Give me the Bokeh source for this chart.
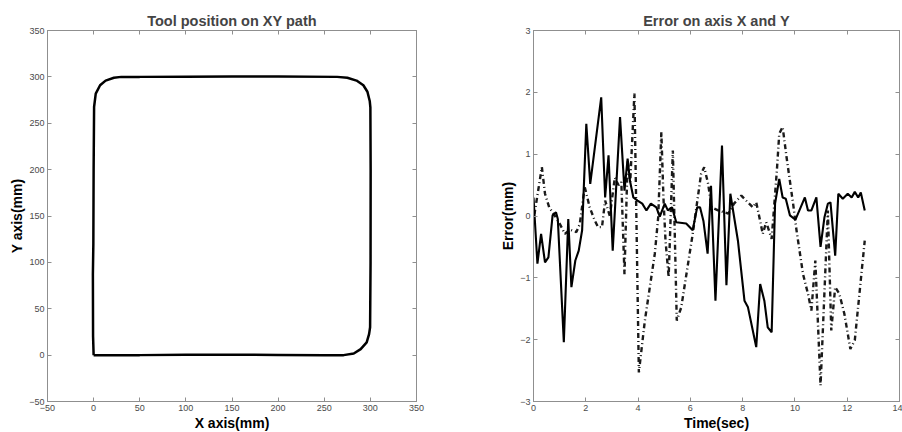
from bokeh.plotting import figure
from bokeh.layouts import row
from bokeh.models import LinearAxis, FixedTicker, Range1d
from bokeh.embed import file_html
from bokeh.resources import INLINE

# ---------------- data ----------------
# Left: tool position on XY path (mm)
path_x = [0, 50, 100, 150, 200, 250, 271, 282, 289.5, 296, 298.6, 299.7, 300.2, 300.3,
          300, 299.3, 296.8, 292.4, 285, 275, 264, 200, 150, 100, 50, 30, 22, 13, 7,
          2.3, 0.5, 0, -0.3, -0.8, -0.6, 0]
path_y = [0, 0, 0.3, 0.5, 0.2, 0, 0, 1.8, 6.5, 13.7, 22.7, 30, 100, 200,
          267, 274, 284, 291, 296, 299, 300, 300.3, 300.4, 300.2, 300, 300, 299, 296, 291,
          282, 267.5, 200, 120, 87, 20, 0]
xy_ticks = [-50, 0, 50, 100, 150, 200, 250, 300, 350]

# Right: error on axis X (solid) and Y (dash-dot), mm vs time (s)
t_x = [0.00, 0.15, 0.29, 0.44, 0.57, 0.73, 0.86, 0.93, 1.16, 1.33, 1.45, 1.60, 1.73, 1.86,
       2.02, 2.17, 2.59, 2.74, 2.87, 3.03, 3.31, 3.48, 3.60, 3.69, 3.82, 3.98, 4.16, 4.32,
       4.49, 4.70, 4.83, 5.02, 5.14, 5.30, 5.46, 5.84, 6.09, 6.26, 6.37, 6.50, 6.66, 6.79,
       6.96, 7.21, 7.38, 7.53, 7.82, 8.07, 8.20, 8.52, 8.67, 8.83, 8.96, 9.11, 9.24, 9.40,
       9.53, 9.65, 9.81, 10.02, 10.22, 10.38, 10.50, 10.63, 10.82, 10.98, 11.13, 11.26,
       11.36, 11.54, 11.66, 11.83, 12.02, 12.17, 12.29, 12.42, 12.52, 12.67]
err_x = [0.30, -0.77, -0.29, -0.75, -0.67, 0.01, 0.06, -0.05, -2.04, -0.05, -1.15, -0.72, -0.56, -0.23,
         1.49, 0.52, 1.92, 0.30, 0.98, -0.56, 1.60, 0.41, 0.93, 0.57, 0.30, 0.25, 0.20, 0.09,
         0.20, 0.14, -0.01, 0.20, 0.09, 0.14, -0.10, -0.12, -0.23, 0.14, 0.14, -0.08, -0.61, 0.49,
         -1.37, 1.14, -1.12, 0.36, -0.40, -1.37, -1.47, -2.12, -1.10, -1.37, -1.80, -1.88, 0.20, 0.60,
         0.30, 0.28, 0.01, -0.06, 0.14, 0.30, 0.09, 0.09, 0.30, -0.50, -0.02, 0.20,
         0.22, -0.64, 0.36, 0.28, 0.36, 0.30, 0.39, 0.30, 0.38, 0.09]

t_y = [0.00, 0.04, 0.32, 0.44, 0.60, 0.76, 1.01, 1.20, 1.40, 1.64, 1.77, 1.96, 2.15, 2.34,
       2.47, 2.62, 2.74, 2.92, 3.11, 3.25, 3.36, 3.48, 3.60, 3.70, 3.86, 4.03, 4.26, 4.64,
       4.77, 4.89, 4.97, 5.05, 5.17, 5.33, 5.48, 5.65, 6.09, 6.41, 6.53, 6.68, 6.81, 7.06,
       7.45, 7.67, 7.95, 8.20, 8.39, 8.52, 8.64, 8.77, 8.90, 9.11, 9.31, 9.40, 9.53, 9.68,
       9.93, 10.06, 10.31, 10.50, 10.63, 10.78, 10.98, 11.26, 11.39, 11.54, 11.70, 11.89,
       12.12, 12.29, 12.67]
err_y = [0.03, 0.04, 0.79, 0.36, 0.14, 0.04, -0.13, -0.29, -0.22, -0.26, -0.13, 0.47, 0.14, -0.07,
         -0.18, -0.18, 0.25, 0.00, 0.62, 0.50, 0.55, -0.94, 0.90, 0.55, 1.98, -2.53, -1.69, -0.61,
         -0.02, 1.36, 0.30, -0.40, -0.99, 1.06, -1.69, -1.48, -0.29, 0.68, 0.79, 0.52, 0.14, 0.09,
         0.04, 0.20, 0.33, 0.22, 0.14, 0.22, -0.02, -0.29, -0.10, -0.37, 0.74, 1.33, 1.44, 0.95,
         0.20, -0.23, -0.94, -1.26, -1.53, -0.72, -2.74, 0.09, -1.85, -1.15, -1.26, -1.58,
         -2.15, -2.01, -0.40]
time_ticks = [0, 2, 4, 6, 8, 10, 12, 14]
err_ticks = [-3, -2, -1, 0, 1, 2, 3]

# ---------------- styling helpers ----------------
FONT = "Liberation Sans"
FRAME = "#8f8f8f"
TICKLBL = "#4a4a4a"


def box_axis(ticks):
    return LinearAxis(ticker=FixedTicker(ticks=ticks),
                      major_label_overrides={t: "" for t in ticks},
                      major_tick_in=4, major_tick_out=0, major_label_standoff=0,
                      minor_tick_line_color=None, axis_line_color=FRAME,
                      major_tick_line_color=FRAME)


def style(p, xticks, yticks, xlabel, ylabel):
    p.grid.visible = False
    p.outline_line_color = FRAME
    p.outline_line_width = 1
    p.background_fill_color = "white"
    p.border_fill_color = "white"
    p.title.text_font = FONT
    p.title.text_font_size = "14.5px"
    p.title.text_font_style = "bold"
    p.title.align = "center"
    p.title.standoff = 4
    p.xaxis.ticker = FixedTicker(ticks=xticks)
    p.yaxis.ticker = FixedTicker(ticks=yticks)
    p.xaxis.axis_label = xlabel
    p.yaxis.axis_label = ylabel
    for ax in p.xaxis + p.yaxis:
        ax.axis_line_color = FRAME
        ax.major_tick_line_color = FRAME
        ax.major_tick_in = 4
        ax.major_tick_out = 0
        ax.minor_tick_line_color = None
        ax.major_label_text_font = FONT
        ax.major_label_text_font_size = "9px"
        ax.major_label_text_color = TICKLBL
        ax.major_label_standoff = 3
        ax.axis_label_text_font = FONT
        ax.axis_label_text_font_size = "14px"
        ax.axis_label_text_font_style = "bold"
        ax.axis_label_text_color = "black"
        ax.axis_label_standoff = 1
    # box ticks on top and right (MATLAB style)
    p.add_layout(box_axis(xticks), "above")
    p.add_layout(box_axis(yticks), "right")


# ---------------- left figure ----------------
p1 = figure(frame_width=369, frame_height=371, output_backend="svg", toolbar_location=None,
            x_range=Range1d(-50, 350), y_range=Range1d(-50, 350),
            title="Tool position on XY path",
            min_border_left=47, min_border_right=40, min_border_top=30, min_border_bottom=31)
p1.line(path_x, path_y, line_color="black", line_width=2.5)
style(p1, xy_ticks, xy_ticks, "X axis(mm)", "Y axis(mm)")

# ---------------- right figure ----------------
p2 = figure(frame_width=366, frame_height=371, output_backend="svg", toolbar_location=None,
            x_range=Range1d(0, 14), y_range=Range1d(-3, 3),
            title="Error on axis X and Y",
            min_border_left=77, min_border_right=3, min_border_top=30, min_border_bottom=31)
p2.line(t_y, err_y, line_color="#1a1a1a", line_width=2.4, line_dash="5 3 1 3")
p2.line(t_x, err_x, line_color="black", line_width=2.1)
style(p2, time_ticks, err_ticks, "Time(sec)", "Error(mm)")

layout = row(p1, p2)
open("out.html", "w").write(file_html(layout, INLINE))
